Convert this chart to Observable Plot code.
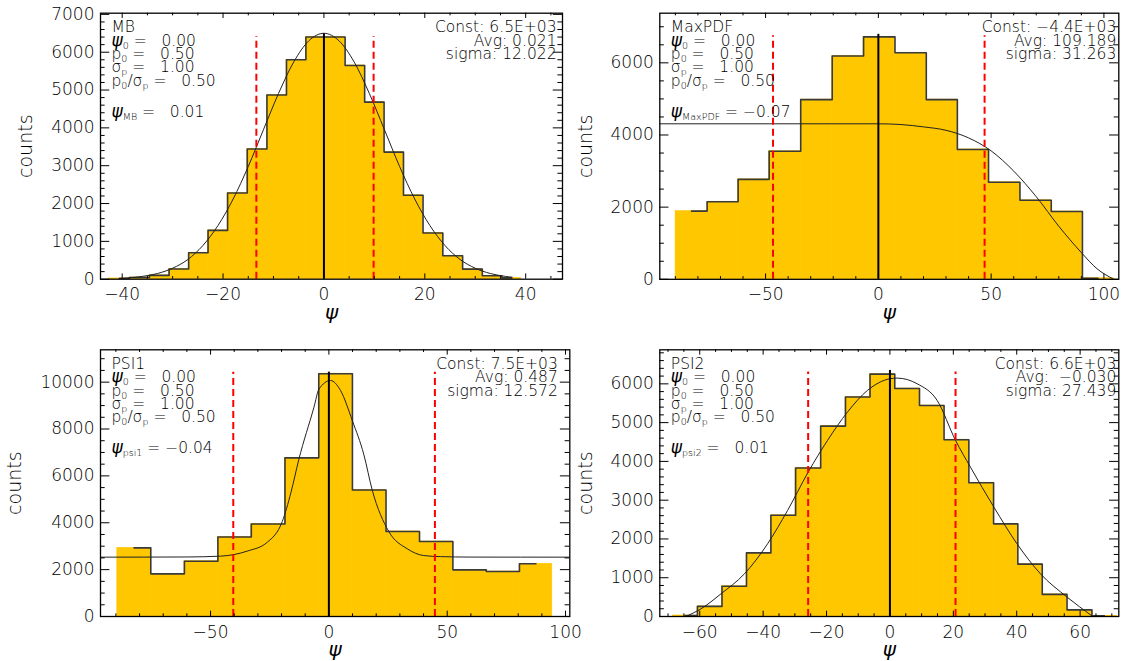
<!DOCTYPE html>
<html><head><meta charset="utf-8">
<script src="https://cdn.jsdelivr.net/npm/d3@7"></script>
<script src="https://cdn.jsdelivr.net/npm/@observablehq/plot@0.6"></script>
<style>
html,body{margin:0;padding:0;background:#fff;}
#chart{position:relative;width:1125px;height:661px;overflow:hidden;background:#fff;}
#chart svg{position:absolute;left:0;top:0;overflow:visible;}
#chart svg text{white-space:pre;}
</style></head><body><div id="chart"></div>
<script>
// ---------- Panel 1: MB ----------
const mbEdges = [-42.6,-38.5,-34.6,-30.7,-26.8,-23.0,-19.1,-15.2,-11.3,-7.4,-3.6,0.3,4.2,8.1,11.9,15.8,19.6,23.6,27.5,31.4,35.3,39.1];
const mbCounts = [20,45,100,270,700,1290,2280,3440,4870,5800,6400,6400,5650,4680,3360,2220,1220,620,265,90,35];
const mbFitX = [-40.6,-39,-36,-33,-30,-27,-24,-21,-18,-15,-12,-9,-6,-3,0,3,6,9,12,15,18,21,24,27,30,33,36,37.3];
const mbFitY = [22,34,74,150,290,520,890,1420,2120,2980,3950,4910,5740,6300,6500,6300,5740,4910,3950,2980,2120,1420,890,520,290,150,74,53];
const mbDashes = [-13.4, 9.85];
const mbDashTop = 6414, mbCenterTop = 6484;
const mbXTicks = [-40,-20,0,20,40];
const mbYTicks = [0,1000,2000,3000,4000,5000,6000,7000];
const mbLeft = ["MB","ψ_{0} =   0.00","p_{0} =   0.50","σ_{p} =   1.00","p_{0}/σ_{p} =   0.50"];
const mbPsi = "ψ_{MB} =   0.01";
const mbRight = ["Const: 6.5E+03","Avg: 0.021","sigma: 12.022"];

// ---------- Panel 2: MaxPDF ----------
const mpEdges = [-89.9,-75.8,-62.2,-48.5,-34.4,-20.4,-6.6,7.4,21.3,35.0,48.8,62.8,76.7,90.4,104.4];
const mpCounts = [1890,2150,2770,3550,4980,6190,6720,6280,4980,3600,2690,2190,1880,30];
const mpFitX = [-96.9,0,10,20,30,40,50,60,70,80,90,97,104];
const mpFitY = [4310,4310,4290,4225,4130,3920,3560,3000,2290,1470,740,290,14];
const mpDashes = [-46.7, 47.1];
const mpDashTop = 6754, mpCenterTop = 6790;
const mpXTicks = [-50,0,50,100];
const mpYTicks = [0,2000,4000,6000];
const mpLeft = ["MaxPDF","ψ_{0} =   0.00","p_{0} =   0.50","σ_{p} =   1.00","p_{0}/σ_{p} =   0.50"];
const mpPsi = "ψ_{MaxPDF} = −0.07";
const mpRight = ["Const: −4.4E+03","Avg: 109.189","sigma: 31.263"];

// ---------- Panel 3: PSI1 ----------
const p1Edges = [-89.4,-75.3,-61.0,-46.9,-32.8,-18.6,-4.2,9.9,24.2,38.3,52.4,66.5,80.6,94.4];
const p1Counts = [2930,1820,2360,3390,3950,6770,10360,5400,3630,3200,1990,1920,2250];
const p1FitX = [-96.5,-60,-45.8,-34.5,-26.0,-19.7,-16,-12.7,-6.3,-4.2,0.7,4.9,9.9,14.8,18.3,25.3,33.1,40.1,47.2,60,101.8];
const p1FitY = [2532,2540,2575,2790,3170,4050,5300,6700,8930,9700,10070,9650,8360,6900,5400,3630,2890,2600,2555,2535,2532];
const p1Dashes = [-40.4, 44.8];
const p1DashTop = 10427, p1CenterTop = 10427;
const p1XTicks = [-50,0,50,100];
const p1YTicks = [0,2000,4000,6000,8000,10000];
const p1Left = ["PSI1","ψ_{0} =   0.00","p_{0} =   0.50","σ_{p} =   1.00","p_{0}/σ_{p} =   0.50"];
const p1Psi = "ψ_{psi1} = −0.04";
const p1Right = ["Const: 7.5E+03","Avg: 0.487","sigma: 12.572"];

// ---------- Panel 4: PSI2 ----------
const p2Edges = [-68.5,-60.7,-53.0,-45.2,-37.6,-29.8,-21.8,-14.0,-6.3,1.5,9.4,17.0,24.9,32.8,40.3,48.0,55.9,63.7,71.6];
const p2Counts = [25,260,780,1640,2610,3830,4910,5660,6250,5880,5440,4560,3450,2390,1350,570,170,17];
const p2FitX = [-64.4,-59.6,-53.3,-45.9,-38.6,-32.3,-25.8,-19.7,-13.4,-7.1,0,2.3,8.6,14.9,20.7,25.4,32.8,40.1,47.5,55.9,63.7];
const p2FitY = [0,198,585,1100,1874,2734,3723,4540,5271,5830,6131,6148,6002,5572,4540,3852,2820,1874,1100,499,17];
const p2Dashes = [-25.8, 20.7];
const p2DashTop = 6303, p2CenterTop = 6346;
const p2XTicks = [-60,-40,-20,0,20,40,60];
const p2YTicks = [0,1000,2000,3000,4000,5000,6000];
const p2Left = ["PSI2","ψ_{0} =   0.00","p_{0} =   0.50","σ_{p} =   1.00","p_{0}/σ_{p} =   0.50"];
const p2Psi = "ψ_{psi2} =   0.01";
const p2Right = ["Const: 6.6E+03","Avg:  −0.030","sigma: 27.439"];

// ---------- rendering ----------
const W = 1125, H = 661;
const FONT = "DejaVu Sans";
const INK = "#000";
const fmt = d => (d < 0 ? "\u2212" + Math.abs(d) : String(d));

// turn "_{..}" into subscript tspans and give the Greek psi an italic look
function applySubs(svg) {
  const ns = "http://www.w3.org/2000/svg";
  svg.querySelectorAll("text, tspan").forEach(node => {
    if (node.children.length === 0 && (node.textContent.includes("_{") || node.textContent.includes("ψ")) && node.textContent.length > 1) {
      const s = node.textContent; node.textContent = "";
      const re = /_\{([^}]*)\}|ψ/g; let last = 0, m;
      const add = (txt, kind) => {
        const t = document.createElementNS(ns, "tspan");
        t.textContent = txt;
        if (kind === "sub") { t.setAttribute("font-size", "9.5"); t.setAttribute("baseline-shift", "-3"); }
        if (kind === "psi") { t.setAttribute("font-size", "17"); t.setAttribute("font-style", "italic"); t.setAttribute("font-weight", "400"); }
        node.appendChild(t);
      };
      while ((m = re.exec(s))) {
        if (m.index > last) add(s.slice(last, m.index), null);
        if (m[0] === "ψ") add("ψ", "psi"); else add(m[1], "sub");
        last = re.lastIndex;
      }
      if (last < s.length) add(s.slice(last), null);
    }
  });
}

function panel(cfg) {
  const bins = cfg.counts.map((c, i) => ({x1: cfg.edges[i], x2: cfg.edges[i + 1], xc: (cfg.edges[i] + cfg.edges[i + 1]) / 2, y: c}));
  const fit = cfg.fitX.map((x, i) => ({x, y: cfg.fitY[i]}));
  const f = cfg.frame;
  const ph = f.bottom - f.top, pw = f.right - f.left;
  const xt = 0.02 * ph, yt = 0.02 * pw;
  const tick = {stroke: "#000", strokeWidth: 1};
  const svg = Plot.plot({
    width: W, height: H,
    marginLeft: f.left, marginRight: W - f.right, marginTop: f.top, marginBottom: H - f.bottom,
    style: {background: "transparent", overflow: "visible", fontFamily: FONT, color: "#000"},
    x: {domain: cfg.xDomain, axis: null},
    y: {domain: cfg.yDomain, axis: null},
    marks: [
      Plot.rectY(bins, {x1: "x1", x2: "x2", y: "y", fill: "#FFC700", stroke: "#FFC700", strokeWidth: 0.6}),
      Plot.line(bins, {x: "xc", y: "y", curve: "step", stroke: "#3a3a3a", strokeWidth: 1.6}),
      Plot.line(fit, {x: "x", y: "y", curve: "monotone-x", stroke: "#222", strokeWidth: 1, clip: true}),
      Plot.ruleX(cfg.dashes, {x: d => d, y1: 0, y2: cfg.dashTop, stroke: "#ff0000", strokeWidth: 2, strokeDasharray: "7,4"}),
      Plot.ruleX([0], {x: d => d, y1: 0, y2: cfg.centerTop, stroke: "#000", strokeWidth: 2}),
      Plot.frame({stroke: "#000", strokeWidth: 1.3}),
      // inward major / minor ticks on all four sides
      Plot.ruleX(cfg.xTicks, {x: d => d, insetTop: ph - xt, ...tick}),
      Plot.ruleX(cfg.xTicks, {x: d => d, insetBottom: ph - xt, ...tick}),
      Plot.ruleX(cfg.xMinor, {x: d => d, insetTop: ph - xt / 2, ...tick}),
      Plot.ruleX(cfg.xMinor, {x: d => d, insetBottom: ph - xt / 2, ...tick}),
      Plot.ruleY(cfg.yTicks, {y: d => d, insetRight: pw - yt, ...tick}),
      Plot.ruleY(cfg.yTicks, {y: d => d, insetLeft: pw - yt, ...tick}),
      Plot.ruleY(cfg.yMinor, {y: d => d, insetRight: pw - yt / 2, ...tick}),
      Plot.ruleY(cfg.yMinor, {y: d => d, insetLeft: pw - yt / 2, ...tick}),
      // tick labels
      Plot.axisX(cfg.xTicks, {anchor: "bottom", tickSize: 0, tickPadding: 9, tickFormat: fmt, fontSize: 17, fontFamily: FONT, fontWeight: 300, fill: INK, label: null}),
      Plot.axisY(cfg.yTicks, {anchor: "left", tickSize: 0, tickPadding: 6, tickFormat: fmt, fontSize: 17, fontFamily: FONT, fontWeight: 300, fill: INK, label: null}),
      // axis titles
      Plot.text(["ψ"], {frameAnchor: "bottom", dy: 33, lineAnchor: "middle", fontSize: 20, fontStyle: "italic", fontFamily: FONT, fill: INK}),
      Plot.text(["counts"], {frameAnchor: "left", dx: -cfg.countsOffset, rotate: -90, textAnchor: "middle", lineAnchor: "middle", fontSize: 19, fontFamily: FONT, fontWeight: 300, fill: INK}),
      // annotations
      Plot.text([cfg.left.join("\n")], {frameAnchor: "top-left", dx: 11, dy: 9.6, lineAnchor: "top", lineHeight: 0.86, fontSize: 15.5, fontFamily: FONT, fontWeight: 300, fill: INK}),
      Plot.text([cfg.psi], {frameAnchor: "top-left", dx: 11, dy: 92.5, lineAnchor: "top", fontSize: 15.5, fontFamily: FONT, fontWeight: 300, fill: INK}),
      Plot.text([cfg.right.join("\n")], {frameAnchor: "top-right", dx: -cfg.rightPad, dy: 9.6, lineAnchor: "top", textAnchor: "end", lineHeight: 0.86, fontSize: 15.5, fontFamily: FONT, fontWeight: 300, fill: INK})
    ]
  });
  applySubs(svg);
  document.getElementById("chart").appendChild(svg);
}

panel({edges: mbEdges, counts: mbCounts, fitX: mbFitX, fitY: mbFitY, dashes: mbDashes, dashTop: mbDashTop, centerTop: mbCenterTop,
  xTicks: mbXTicks, xMinor: d3.range(-40, 46, 5).filter(v => v % 20 !== 0), yTicks: mbYTicks, yMinor: d3.range(0, 7001, 200).filter(v => v % 1000 !== 0),
  left: mbLeft, psi: mbPsi, right: mbRight, countsOffset: 75, rightPad: 6,
  frame: {left: 100, right: 562, top: 12.7, bottom: 278.7}, xDomain: [-44.3, 47.3], yDomain: [0, 7031]});
panel({edges: mpEdges, counts: mpCounts, fitX: mpFitX, fitY: mpFitY, dashes: mpDashes, dashTop: mpDashTop, centerTop: mpCenterTop,
  xTicks: mpXTicks, xMinor: d3.range(-90, 101, 10).filter(v => v % 50 !== 0), yTicks: mpYTicks, yMinor: d3.range(0, 7001, 500).filter(v => v % 2000 !== 0),
  left: mpLeft, psi: mpPsi, right: mpRight, countsOffset: 74, rightPad: 2.5,
  frame: {left: 659.3, right: 1118.3, top: 12.7, bottom: 278.8}, xDomain: [-96.9, 106.6], yDomain: [0, 7376]});
panel({edges: p1Edges, counts: p1Counts, fitX: p1FitX, fitY: p1FitY, dashes: p1Dashes, dashTop: p1DashTop, centerTop: p1CenterTop,
  xTicks: p1XTicks, xMinor: d3.range(-90, 101, 10).filter(v => v % 50 !== 0), yTicks: p1YTicks, yMinor: d3.range(0, 11001, 500).filter(v => v % 2000 !== 0),
  left: p1Left, psi: p1Psi, right: p1Right, countsOffset: 86, rightPad: 12,
  frame: {left: 100, right: 569.3, top: 349.3, bottom: 616}, xDomain: [-96.5, 101.8], yDomain: [0, 11380]});
panel({edges: p2Edges, counts: p2Counts, fitX: p2FitX, fitY: p2FitY, dashes: p2Dashes, dashTop: p2DashTop, centerTop: p2CenterTop,
  xTicks: p2XTicks, xMinor: d3.range(-70, 71, 5).filter(v => v % 20 !== 0), yTicks: p2YTicks, yMinor: d3.range(0, 6801, 200).filter(v => v % 1000 !== 0),
  left: p2Left, psi: p2Psi, right: p2Right, countsOffset: 74, rightPad: 2.5,
  frame: {left: 659.3, right: 1118.3, top: 349.3, bottom: 616}, xDomain: [-72.6, 72.2], yDomain: [0, 6878]});
</script>
</body></html>
